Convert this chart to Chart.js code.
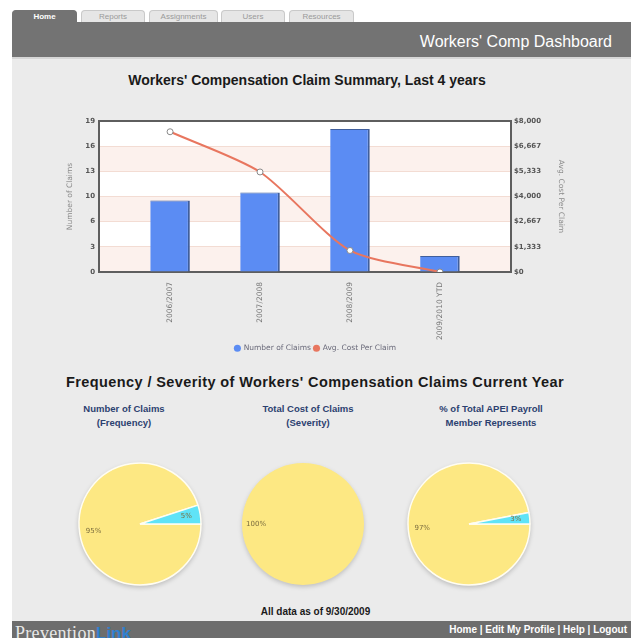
<!DOCTYPE html>
<html><head><meta charset="utf-8">
<script src="https://cdn.jsdelivr.net/npm/chart.js@4.4.1/dist/chart.umd.min.js"></script>
<style>
html,body{margin:0;padding:0;background:#fff;width:631px;height:638px;overflow:hidden;font-family:"Liberation Sans",Arial,sans-serif;}
.abs{position:absolute;}
#body{left:12px;top:57px;width:619px;height:564px;background:#ebebeb;}
#hdr{left:12px;top:22px;width:619px;height:35px;background:#737373;}
#hdrline{left:12px;top:57px;width:619px;height:2px;background:#d6d6d6;}
#hdrTitle{right:19px;top:33px;font-size:16px;color:#fff;white-space:nowrap;}
.tab{top:10px;height:12px;line-height:12px;font-size:8px;text-align:center;color:#9a9a9a;background:#e6e6e6;border:1px solid #c9c9c9;border-bottom:none;border-radius:4px 4px 0 0;box-sizing:border-box;}
.tab.on{background:#737373;border-color:#737373;color:#fff;font-weight:bold;}
.ttl{font-weight:bold;font-size:14px;color:#1a1a1a;white-space:nowrap;text-align:center;}
.ptitle{font-weight:bold;font-size:9.5px;color:#2b4170;text-align:center;line-height:14px;white-space:nowrap;}
#foot{left:12px;top:621px;width:619px;height:17px;background:#6d6d6d;overflow:hidden;}
#logo{left:3px;top:2px;white-space:nowrap;}
#logo .p{font-family:"Liberation Serif",serif;font-size:18px;color:#e8e8e8;letter-spacing:0.3px;}
#logo .l{font-family:"Liberation Sans",Arial,sans-serif;font-weight:bold;color:#2f80d0;font-size:17px;}
#links{right:4px;top:3px;font-size:10px;font-weight:bold;color:#fff;white-space:nowrap;}
canvas.pie{filter:drop-shadow(0px 2px 2px rgba(0,0,0,0.18));}
</style></head>
<body>
<div id="body" class="abs"></div>
<div class="abs tab on" style="left:12px;width:65px;">Home</div>
<div class="abs tab" style="left:81px;width:64px;">Reports</div>
<div class="abs tab" style="left:149px;width:69px;">Assignments</div>
<div class="abs tab" style="left:221px;width:64px;">Users</div>
<div class="abs tab" style="left:289px;width:65px;">Resources</div>
<div id="hdr" class="abs"></div>
<div id="hdrline" class="abs"></div>
<div id="hdrTitle" class="abs">Workers' Comp Dashboard</div>

<div class="abs ttl" style="left:0;width:614px;top:72px;">Workers' Compensation Claim Summary, Last 4 years</div>
<canvas id="bar" class="abs" style="left:0;top:100px;" width="631" height="262"></canvas>

<div class="abs ttl" style="left:0;width:630px;top:374px;font-size:14.5px;letter-spacing:0.4px;">Frequency / Severity of Workers' Compensation Claims Current Year</div>
<div id="pt0" class="abs ptitle"></div>
<div id="pt1" class="abs ptitle"></div>
<div id="pt2" class="abs ptitle"></div>
<canvas id="pie0" class="abs pie" width="140" height="140"></canvas>
<canvas id="pie1" class="abs pie" width="140" height="140"></canvas>
<canvas id="pie2" class="abs pie" width="140" height="140"></canvas>

<div class="abs ttl" style="left:0;width:631px;top:606px;font-size:10px;">All data as of 9/30/2009</div>
<div id="foot" class="abs">
  <div id="logo" class="abs"><span class="p">Prevention</span><span class="l">Link</span></div>
  <div id="links" class="abs">Home | Edit My Profile | Help | Logout</div>
</div>

<script>
// ---------- data ----------
const categories = ['2006/2007', '2007/2008', '2008/2009', '2009/2010 YTD'];
const numberOfClaims = [9, 10, 18, 2];
const avgCostPerClaim = [7430, 5300, 1140, 0];
const claimTickLabels = ['0', '3', '6', '10', '13', '16', '19'];
const costTickLabels = ['$0', '$1,333', '$2,667', '$4,000', '$5,333', '$6,667', '$8,000'];
const claimMax = 19;
const costMax = 8000;
const seriesNames = ['Number of Claims', 'Avg. Cost Per Claim'];
const seriesColors = ['#5b8cf3', '#e8765f'];

const pieTitles = [['Number of Claims', '(Frequency)'], ['Total Cost of Claims', '(Severity)'], ['% of Total APEI Payroll', 'Member Represents']];
const pieSliceNames = ['Other', 'Member'];
const frequencyPct = [95, 5];
const severityPct = [100, 0];
const payrollPct = [97, 3];
const pieColors = ['#fde883', '#5fe3f7'];

// ---------- layout (not data) ----------
const pieCenters = [[140, 524], [303, 524], [469, 524]];
const pieTitleCenters = [124, 308, 491];
const pieRadius = 61;

const FONT = '"DejaVu Sans", Verdana, sans-serif';

const bandsPlugin = {
  id: 'bands',
  beforeDraw(chart) {
    const {ctx, chartArea: a} = chart;
    const y = chart.scales.y;
    ctx.save();
    ctx.fillStyle = '#ffffff';
    ctx.fillRect(a.left, a.top, a.right - a.left, a.bottom - a.top);
    const px = y.ticks.map(t => y.getPixelForValue(t.value));
    for (let i = 0; i < px.length - 1; i++) {
      if (i % 2 === 0) {
        ctx.fillStyle = '#fcf1ed';
        ctx.fillRect(a.left, px[i + 1], a.right - a.left, px[i] - px[i + 1]);
      }
    }
    ctx.restore();
  },
  beforeDatasetsDraw(chart) {
    const {ctx, chartArea: a} = chart;
    ctx.save();
    ctx.strokeStyle = '#5e5e5e';
    ctx.lineWidth = 2;
    ctx.strokeRect(a.left, a.top, a.right - a.left, a.bottom - a.top);
    ctx.restore();
  }
};

new Chart(document.getElementById('bar'), {
  data: {
    datasets: [
      {
        type: 'bar', label: seriesNames[0], yAxisID: 'y', order: 2,
        data: numberOfClaims.map((v, i) => ({x: i, y: v})),
        backgroundColor: seriesColors[0], borderColor: '#3f5e9c',
        borderWidth: {top: 1, right: 2, left: 0, bottom: 0}, borderSkipped: false,
        barPercentage: 0.44, categoryPercentage: 1
      },
      {
        type: 'line', label: seriesNames[1], yAxisID: 'y1', order: 1,
        data: avgCostPerClaim.map((v, i) => ({x: i, y: v})),
        borderColor: seriesColors[1], borderWidth: 2, tension: 0.25,
        pointRadius: 3, pointBackgroundColor: '#ffffff', pointBorderColor: '#8a8a8a', pointBorderWidth: 1,
        fill: false
      }
    ]
  },
  options: {
    responsive: false, animation: false,
    layout: {padding: {left: 62, right: 62, top: 21, bottom: 0}},
    plugins: {
      tooltip: {enabled: false},
      legend: {
        position: 'bottom',
        labels: {
          usePointStyle: true, boxWidth: 5, boxHeight: 5, padding: 3,
          color: '#6a6a7a', font: {family: FONT, size: 7.5},
          generateLabels: (chart) => chart.data.datasets.map((ds, i) => ({
            text: ds.label, fillStyle: seriesColors[i], strokeStyle: seriesColors[i], lineWidth: 0,
            pointStyle: 'circle', datasetIndex: i, hidden: false, fontColor: '#6a6a7a'
          }))
        }
      }
    },
    scales: {
      x: {
        type: 'linear', min: -0.79, max: 3.79, offset: false,
        afterBuildTicks: (axis) => { axis.ticks = categories.map((c, i) => ({value: i})); },
        afterFit: (axis) => { axis.height = 69.5; },
        grid: {display: false, offset: false}, border: {display: false},
        ticks: {autoSkip: false, minRotation: 90, maxRotation: 90, padding: 2,
          color: '#777', font: {family: FONT, size: 7.5},
          callback: (v) => categories[v]}
      },
      y: {
        position: 'left', min: 0, max: claimMax,
        afterBuildTicks: (axis) => { axis.ticks = claimTickLabels.map((t, i) => ({value: i * claimMax / (claimTickLabels.length - 1)})); },
        afterFit: (axis) => { axis.width = 37; },
        grid: {color: '#f3dcd3', lineWidth: 1, drawTicks: false}, border: {display: false},
        ticks: {padding: 4, color: '#555', font: {family: FONT, size: 7, weight: 'bold'},
          callback: (v, i) => claimTickLabels[i]},
        title: {display: true, text: 'Number of Claims', color: '#8a8a8a', font: {family: FONT, size: 7.5}, padding: {top: 4, bottom: 0}}
      },
      y1: {
        position: 'right', min: 0, max: costMax,
        afterBuildTicks: (axis) => { axis.ticks = costTickLabels.map((t, i) => ({value: i * costMax / (costTickLabels.length - 1)})); },
        afterFit: (axis) => { axis.width = 58; },
        grid: {display: false, drawTicks: false}, border: {display: false},
        ticks: {padding: 3, color: '#555', font: {family: FONT, size: 7, weight: 'bold'},
          callback: (v, i) => costTickLabels[i]},
        title: {display: true, text: 'Avg. Cost Per Claim', color: '#8a8a8a', font: {family: FONT, size: 7.5}, padding: {top: 4, bottom: 0}}
      }
    }
  },
  plugins: [bandsPlugin]
});

// ---------- pies ----------
const pieLabelPlugin = {
  id: 'pieLabels',
  afterDatasetsDraw(chart) {
    const ctx = chart.ctx;
    const data = chart.data.datasets[0].data;
    const total = data.reduce((a, b) => a + b, 0);
    chart.getDatasetMeta(0).data.forEach((arc, i) => {
      if (!data[i]) return;
      const p = arc.getProps(['x', 'y', 'startAngle', 'endAngle', 'outerRadius'], true);
      const mid = (p.startAngle + p.endAngle) / 2;
      const r = p.outerRadius * 0.77;
      ctx.save();
      ctx.font = '7px ' + FONT;
      ctx.fillStyle = '#7b6d3f';
      ctx.textAlign = 'center';
      ctx.textBaseline = 'middle';
      ctx.fillText(Math.round(data[i] / total * 100) + '%', p.x + Math.cos(mid) * r, p.y + Math.sin(mid) * r);
      ctx.restore();
    });
  }
};

[frequencyPct, severityPct, payrollPct].forEach((vals, k) => {
  const cv = document.getElementById('pie' + k);
  cv.style.left = (pieCenters[k][0] - 70) + 'px';
  cv.style.top = (pieCenters[k][1] - 70) + 'px';
  const t = document.getElementById('pt' + k);
  t.innerHTML = pieTitles[k][0] + '<br>' + pieTitles[k][1];
  t.style.left = (pieTitleCenters[k] - 80) + 'px';
  t.style.width = '160px';
  t.style.top = '402px';
  new Chart(cv, {
    type: 'pie',
    data: {labels: pieSliceNames, datasets: [{data: vals, backgroundColor: pieColors, borderColor: '#fffdf2',
      borderWidth: vals.map(v => (v > 0 && v < 100) ? 1.5 : 0)}]},
    options: {
      responsive: false, animation: false, rotation: 90, radius: pieRadius,
      plugins: {legend: {display: false}, tooltip: {enabled: false}}
    },
    plugins: [pieLabelPlugin]
  });
});
</script>
</body></html>
